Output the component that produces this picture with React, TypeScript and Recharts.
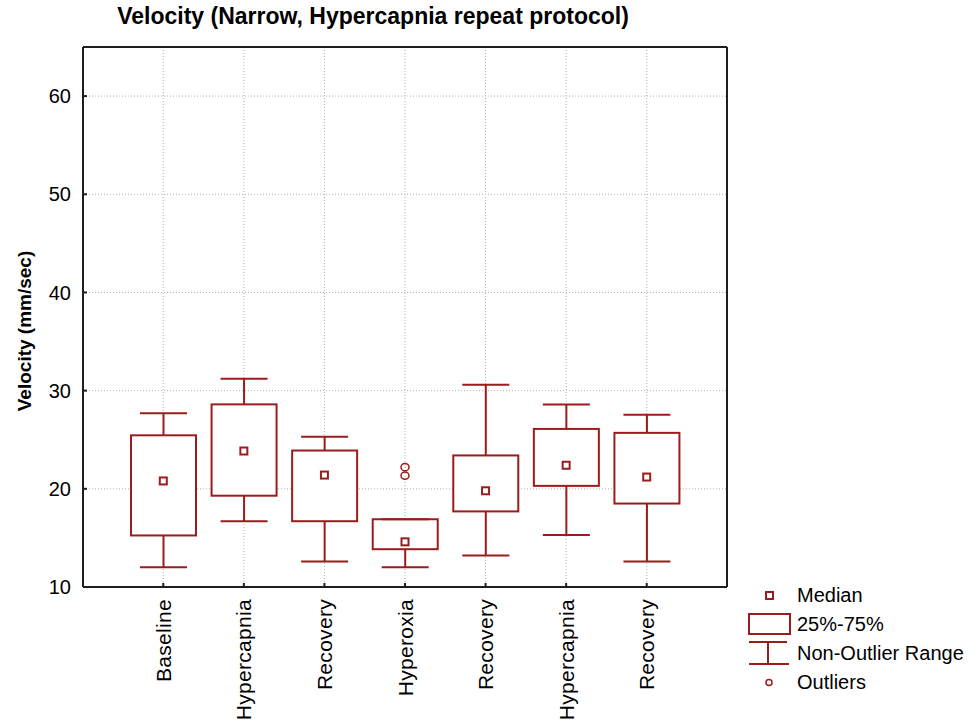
import React from "react";
import { ComposedChart, Bar, Scatter, XAxis, YAxis, CartesianGrid, Legend } from "recharts";

// box plot summary per protocol phase (mm/sec)
const categories = ["Baseline", "Hypercapnia", "Recovery", "Hyperoxia", "Recovery", "Hypercapnia", "Recovery"];
const whiskerLow = [12.0, 16.7, 12.6, 12.0, 13.2, 15.3, 12.6];
const quartile1 = [15.25, 19.3, 16.7, 13.85, 17.7, 20.3, 18.5];
const medians = [20.8, 23.85, 21.4, 14.6, 19.8, 22.4, 21.2];
const quartile3 = [25.45, 28.6, 23.9, 16.9, 23.4, 26.1, 25.7];
const whiskerHigh = [27.7, 31.2, 25.3, 16.9, 30.6, 28.6, 27.55];

// outliers: category index + value
const outlierGroup = [3, 3];
const outlierValues = [22.2, 21.35];

const yTicks = [10, 20, 30, 40, 50, 60];

const RED = "#9b1c1c";
const INK = "#1e1e1e";
const FONT = '"Liberation Sans", Arial, sans-serif';
const CAP = 47;

const data = categories.map((name, i) => ({
  id: i,
  name,
  base: whiskerLow[i],
  lower: quartile1[i] - whiskerLow[i],
  box: quartile3[i] - quartile1[i],
  upper: whiskerHigh[i] - quartile3[i],
  median: medians[i],
}));

const outliers = outlierGroup.map((g, i) => ({ id: g, value: outlierValues[i] }));

const Empty = () => <g />;

const LowerWhisker = (p: any) => {
  const cx = p.x + p.width / 2;
  const yb = p.y + p.height;
  return (
    <g stroke={RED} strokeWidth={2}>
      <line x1={cx} x2={cx} y1={p.y} y2={yb} />
      <line x1={cx - CAP / 2} x2={cx + CAP / 2} y1={yb} y2={yb} />
    </g>
  );
};

const UpperWhisker = (p: any) => {
  const cx = p.x + p.width / 2;
  return (
    <g stroke={RED} strokeWidth={2}>
      <line x1={cx} x2={cx} y1={p.y} y2={p.y + p.height} />
      <line x1={cx - CAP / 2} x2={cx + CAP / 2} y1={p.y} y2={p.y} />
    </g>
  );
};

const BoxShape = (p: any) => (
  <rect x={p.x} y={p.y} width={p.width} height={p.height} fill="#fff" stroke={RED} strokeWidth={2} />
);

const MedianMark = (p: any) => (
  <rect x={p.cx - 3.5} y={p.cy - 3.5} width={7} height={7} fill="#fff" stroke={RED} strokeWidth={2} />
);

const OutlierMark = (p: any) => (
  <ellipse cx={p.cx} cy={p.cy} rx={4} ry={3.6} fill="none" stroke={RED} strokeWidth={1.5} />
);

const CategoryTick = ({ x, y, payload }: any) => (
  <text
    x={x}
    y={y}
    transform={`rotate(-90 ${x} ${y})`}
    textAnchor="end"
    dy="0.36em"
    fontSize={21}
    letterSpacing={0.3}
    fontFamily={FONT}
    fill="#000"
  >
    {categories[payload.value]}
  </text>
);

const YTitle = (props: any) => {
  const vb = props.viewBox;
  const cx = vb.x + 24;
  const cy = vb.y + vb.height / 2 + 14;
  return (
    <text
      x={cx}
      y={cy}
      transform={`rotate(-90 ${cx} ${cy})`}
      textAnchor="middle"
      dy="0.36em"
      fontSize={19}
      fontWeight="bold"
      fontFamily={FONT}
      fill="#000"
    >
      Velocity (mm/sec)
    </text>
  );
};

const legendRow = { display: "flex", alignItems: "center", height: 29 };

const BoxLegend = () => (
  <div style={{ fontFamily: FONT, fontSize: 20, color: "#000" }}>
    <div style={legendRow}>
      <svg width={49} height={29}>
        <rect x={18} y={11} width={7} height={7} fill="#fff" stroke={RED} strokeWidth={2} />
      </svg>
      <span>Median</span>
    </div>
    <div style={legendRow}>
      <svg width={49} height={29}>
        <rect x={1} y={4} width={41} height={20} fill="#fff" stroke={RED} strokeWidth={2} />
      </svg>
      <span>25%-75%</span>
    </div>
    <div style={legendRow}>
      <svg width={49} height={29}>
        <g stroke={RED} strokeWidth={2}>
          <line x1={1} x2={39} y1={3} y2={3} />
          <line x1={20} x2={20} y1={3} y2={25} />
          <line x1={1} x2={41} y1={25} y2={25} />
        </g>
      </svg>
      <span>Non-Outlier Range</span>
    </div>
    <div style={legendRow}>
      <svg width={49} height={29}>
        <circle cx={21} cy={14.5} r={3} fill="none" stroke={RED} strokeWidth={1.5} />
      </svg>
      <span>Outliers</span>
    </div>
  </div>
);

export default function App() {
  return (
    <div style={{ position: "absolute", left: 0, top: 0, width: 974, height: 725, background: "#fff" }}>
      <div
        style={{
          position: "absolute",
          left: 0,
          top: 3,
          width: 746,
          textAlign: "center",
          fontFamily: FONT,
          fontWeight: "bold",
          fontSize: 23,
          lineHeight: "27px",
          color: "#000",
        }}
      >
        Velocity (Narrow, Hypercapnia repeat protocol)
      </div>
      <ComposedChart
        width={974}
        height={725}
        data={data}
        margin={{ top: 47, right: 247, bottom: 8, left: 0 }}
      >
        <CartesianGrid stroke="#b0b0b0" strokeDasharray="1 2" />
        <XAxis
          dataKey="id"
          type="category"
          allowDuplicatedCategory={false}
          interval={0}
          padding={{ left: 40, right: 40 }}
          height={130}
          axisLine={{ stroke: INK, strokeWidth: 2 }}
          tickLine={{ stroke: INK, strokeWidth: 2 }}
          tickSize={-4}
          tickMargin={16}
          tick={<CategoryTick />}
        />
        <XAxis
          xAxisId="top"
          dataKey="id"
          type="category"
          orientation="top"
          mirror
          allowDuplicatedCategory={false}
          interval={0}
          padding={{ left: 40, right: 40 }}
          height={1}
          axisLine={{ stroke: INK, strokeWidth: 2 }}
          tickLine={{ stroke: INK, strokeWidth: 2 }}
          tickSize={4}
          tick={false}
        />
        <YAxis
          domain={[10, 65]}
          allowDataOverflow
          ticks={yTicks}
          width={83}
          axisLine={{ stroke: INK, strokeWidth: 2 }}
          tickLine={{ stroke: INK, strokeWidth: 2 }}
          tickSize={-4}
          tickMargin={16}
          tick={{ fontSize: 20, fill: "#000", fontFamily: FONT }}
          label={YTitle}
        />
        <YAxis
          yAxisId="right"
          orientation="right"
          mirror
          domain={[10, 65]}
          allowDataOverflow
          ticks={yTicks}
          width={1}
          axisLine={{ stroke: INK, strokeWidth: 2 }}
          tickLine={{ stroke: INK, strokeWidth: 2 }}
          tickSize={4}
          tick={false}
        />
        <Bar dataKey="base" stackId="b" barSize={65} shape={<Empty />} isAnimationActive={false} />
        <Bar dataKey="lower" stackId="b" barSize={65} shape={LowerWhisker} isAnimationActive={false} />
        <Bar dataKey="box" stackId="b" barSize={65} shape={BoxShape} isAnimationActive={false} />
        <Bar dataKey="upper" stackId="b" barSize={65} shape={UpperWhisker} isAnimationActive={false} />
        <Scatter dataKey="median" shape={MedianMark} isAnimationActive={false} />
        <Scatter data={outliers} dataKey="value" shape={OutlierMark} isAnimationActive={false} />
        <Legend
          layout="vertical"
          align="center"
          verticalAlign="middle"
          content={<BoxLegend />}
          wrapperStyle={{ left: 748, top: 581, width: 226 }}
        />
      </ComposedChart>
    </div>
  );
}
